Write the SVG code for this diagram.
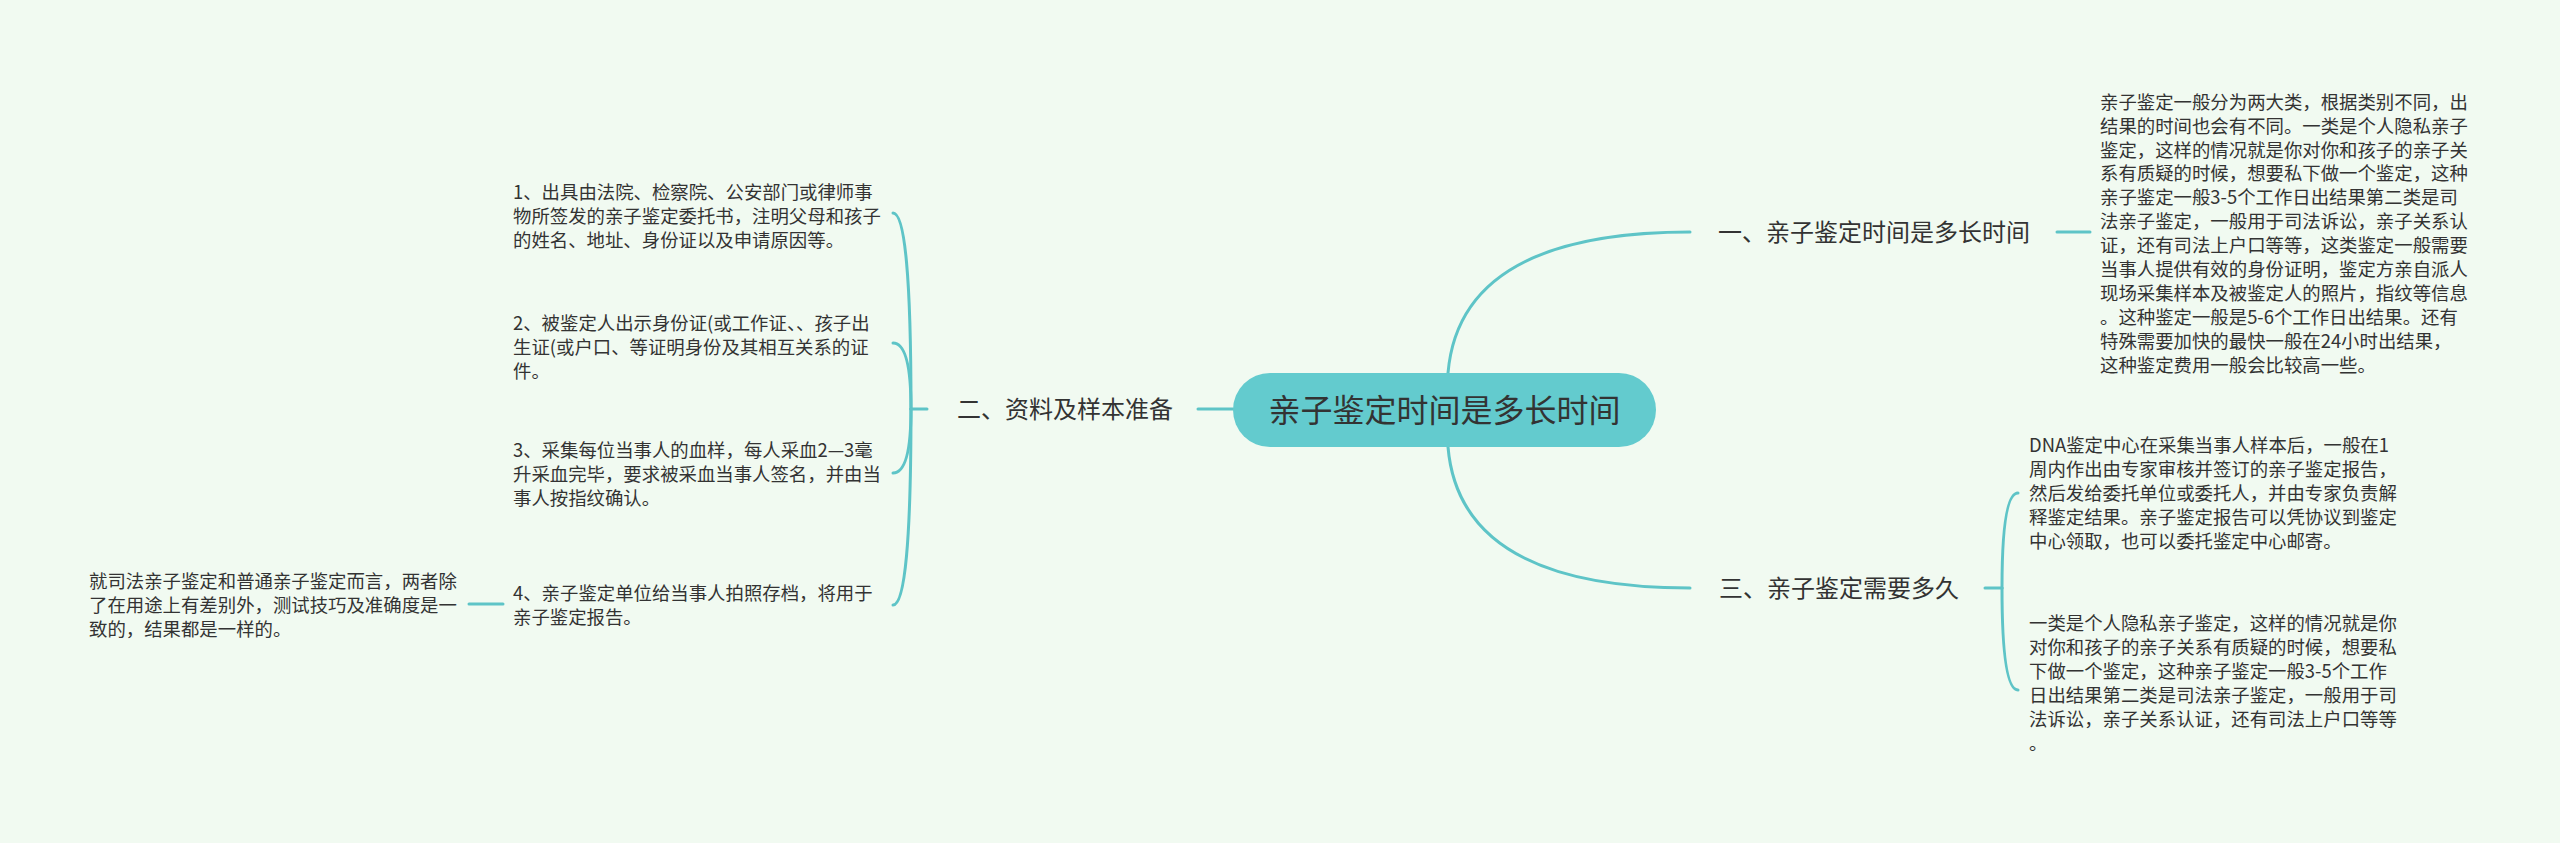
<svg xmlns="http://www.w3.org/2000/svg" width="2560" height="843" viewBox="0 0 2560 843">
<style>
.bg{fill:#f1faf1}
.ln{fill:none;stroke:#5ec4c7;stroke-width:3;stroke-linecap:round}
.root{fill:#63cbce}
.t{font-family:"Noto Sans CJK SC","Noto Sans",sans-serif;fill:#333333}
.body{font-size:18.4px}
.br{font-size:24px}
.rt{font-size:32px}
</style>
<rect class="bg" x="0" y="0" width="2560" height="843"/>
<g id="connectors">
<path class="ln" d="M1448,373 Q1460,232 1690,232"/>
<path class="ln" d="M1448,447 Q1460,588 1690,588"/>
<path class="ln" d="M1233,409 L1198,409"/>
<path class="ln" d="M2057,232 L2090,232"/>
<path class="ln" d="M1985,588 L2002,588"/>
<path class="ln" d="M2002,588 Q2002,493 2018,493"/>
<path class="ln" d="M2002,588 Q2002,690 2018,690"/>
<path class="ln" d="M927,409 L911,409"/>
<path class="ln" d="M911,409 Q911,213 893,213"/>
<path class="ln" d="M911,409 Q911,343 893,343"/>
<path class="ln" d="M911,409 Q911,473 893,473"/>
<path class="ln" d="M911,409 Q911,605 893,605"/>
<path class="ln" d="M503,604 L469,604"/>
</g>
<g id="root">
<rect class="root" x="1233" y="373" width="423" height="74" rx="37"/>
<text class="t rt" x="1444.5" y="422" text-anchor="middle">亲子鉴定时间是多长时间</text>
</g>
<g id="branch1">
<text class="t br" x="1718" y="241">一、亲子鉴定时间是多长时间</text>
</g>
<g id="branch1-detail">
<text class="t body" x="2100">
<tspan x="2100" y="108.7">亲子鉴定一般分为两大类，根据类别不同，出</tspan>
<tspan x="2100" y="132.6">结果的时间也会有不同。一类是个人隐私亲子</tspan>
<tspan x="2100" y="156.5">鉴定，这样的情况就是你对你和孩子的亲子关</tspan>
<tspan x="2100" y="180.4">系有质疑的时候，想要私下做一个鉴定，这种</tspan>
<tspan x="2100" y="204.3">亲子鉴定一般3-5个工作日出结果第二类是司</tspan>
<tspan x="2100" y="228.2">法亲子鉴定，一般用于司法诉讼，亲子关系认</tspan>
<tspan x="2100" y="252.1">证，还有司法上户口等等，这类鉴定一般需要</tspan>
<tspan x="2100" y="276">当事人提供有效的身份证明，鉴定方亲自派人</tspan>
<tspan x="2100" y="299.9">现场采集样本及被鉴定人的照片，指纹等信息</tspan>
<tspan x="2100" y="323.8">。这种鉴定一般是5-6个工作日出结果。还有</tspan>
<tspan x="2100" y="347.7">特殊需要加快的最快一般在24小时出结果，</tspan>
<tspan x="2100" y="371.6">这种鉴定费用一般会比较高一些。</tspan>
</text>
</g>
<g id="branch3">
<text class="t br" x="1719" y="597">三、亲子鉴定需要多久</text>
</g>
<g id="branch3-detail1">
<text class="t body">
<tspan x="2029" y="452">DNA鉴定中心在采集当事人样本后，一般在1</tspan>
<tspan x="2029" y="475.9">周内作出由专家审核并签订的亲子鉴定报告，</tspan>
<tspan x="2029" y="499.8">然后发给委托单位或委托人，并由专家负责解</tspan>
<tspan x="2029" y="523.7">释鉴定结果。亲子鉴定报告可以凭协议到鉴定</tspan>
<tspan x="2029" y="547.6">中心领取，也可以委托鉴定中心邮寄。</tspan>
</text>
</g>
<g id="branch3-detail2">
<text class="t body">
<tspan x="2029" y="630">一类是个人隐私亲子鉴定，这样的情况就是你</tspan>
<tspan x="2029" y="653.9">对你和孩子的亲子关系有质疑的时候，想要私</tspan>
<tspan x="2029" y="677.8">下做一个鉴定，这种亲子鉴定一般3-5个工作</tspan>
<tspan x="2029" y="701.7">日出结果第二类是司法亲子鉴定，一般用于司</tspan>
<tspan x="2029" y="725.6">法诉讼，亲子关系认证，还有司法上户口等等</tspan>
<tspan x="2029" y="749.5">。</tspan>
</text>
</g>
<g id="branch2">
<text class="t br" x="957" y="418">二、资料及样本准备</text>
</g>
<g id="item1">
<text class="t body">
<tspan x="513" y="199">1、出具由法院、检察院、公安部门或律师事</tspan>
<tspan x="513" y="223">物所签发的亲子鉴定委托书，注明父母和孩子</tspan>
<tspan x="513" y="247">的姓名、地址、身份证以及申请原因等。</tspan>
</text>
</g>
<g id="item2">
<text class="t body">
<tspan x="513" y="330">2、被鉴定人出示身份证(或工作证、、孩子出</tspan>
<tspan x="513" y="354">生证(或户口、等证明身份及其相互关系的证</tspan>
<tspan x="513" y="378">件。</tspan>
</text>
</g>
<g id="item3">
<text class="t body">
<tspan x="513" y="457">3、采集每位当事人的血样，每人采血2—3毫</tspan>
<tspan x="513" y="481">升采血完毕，要求被采血当事人签名，并由当</tspan>
<tspan x="513" y="505">事人按指纹确认。</tspan>
</text>
</g>
<g id="item4">
<text class="t body">
<tspan x="513" y="600">4、亲子鉴定单位给当事人拍照存档，将用于</tspan>
<tspan x="513" y="624">亲子鉴定报告。</tspan>
</text>
</g>
<g id="item4-detail">
<text class="t body">
<tspan x="89" y="588">就司法亲子鉴定和普通亲子鉴定而言，两者除</tspan>
<tspan x="89" y="612">了在用途上有差别外，测试技巧及准确度是一</tspan>
<tspan x="89" y="636">致的，结果都是一样的。</tspan>
</text>
</g>
</svg>
